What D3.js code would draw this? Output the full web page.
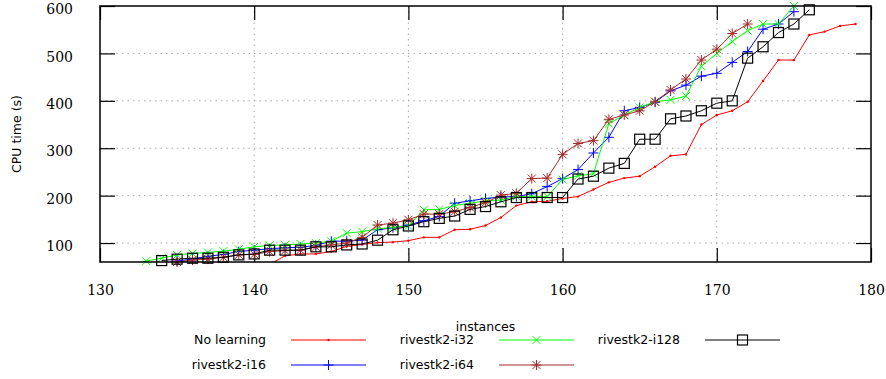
<!DOCTYPE html>
<html>
<head>
<meta charset="utf-8">
<script src="https://cdn.jsdelivr.net/npm/d3@7"></script>
<style>
  body { margin: 0; background: #fff; }
  svg { display: block; }
  .tick text { font-family: "DejaVu Serif", serif; font-size: 14px; fill: #000; }
  .lbl { font-family: "DejaVu Sans", sans-serif; font-size: 12.5px; fill: #000; }
</style>
</head>
<body>
<svg id="chart" width="886" height="379"></svg>
<script>
// cactus plot: CPU time per number of solved instances
const xTicks = [130, 140, 150, 160, 170, 180];
const yTicks = [100, 200, 300, 400, 500, 600];

const noLearningStart = 141;
const noLearning = [55, 73, 77, 77, 82, 93, 97, 101, 102, 105, 112, 112, 128, 129, 137, 154, 179, 187, 188, 194,
  198, 213, 228, 237, 241, 261, 284, 287, 350, 370, 379, 398, 442, 486, 486, 539, 546, 558, 562];

const i16Start = 135;
const i16 = [62, 66, 72, 76, 82, 85, 88, 90, 91, 95, 104, 104, 106, 128, 132, 138, 147, 156, 184, 189,
  194, 197, 198, 204, 219, 236, 255, 290, 323, 379, 386, 397, 421, 433, 452, 458, 481, 504, 551, 562, 588];

const i32Start = 132;
const i32 = [56, 62, 68, 75, 78, 80, 83, 87, 92, 95, 96, 98, 100, 104, 121, 124, 130, 133, 136, 170,
  171, 179, 184, 189, 191, 198, 198, 198, 234, 242, 246, 352, 370, 386, 398, 402, 410, 473, 500, 525,
  548, 562, 562, 600];

const i64Start = 135;
const i64 = [60, 64, 66, 70, 75, 76, 82, 84, 85, 92, 96, 100, 112, 138, 142, 149, 161, 161, 166, 175,
  185, 201, 205, 236, 237, 287, 310, 316, 361, 370, 379, 398, 423, 446, 486, 509, 542, 562];

const i128Start = 134;
const i128 = [63, 66, 68, 68, 70, 75, 77, 85, 85, 85, 92, 92, 96, 98, 106, 128, 136, 145, 152, 157,
  171, 177, 187, 196, 196, 196, 196, 235, 241, 258, 268, 319, 319, 362, 368, 379, 395, 400, 490, 514,
  544, 562, 592];

const seriesNames = ['No learning', 'rivestk2-i16', 'rivestk2-i32', 'rivestk2-i64', 'rivestk2-i128'];
const seriesColors = ['#ff0000', '#0000ff', '#00ff00', '#a52a2a', '#000000'];
const seriesMarks = ['dot', 'plus', 'cross', 'star', 'square'];
const seriesStarts = [noLearningStart, i16Start, i32Start, i64Start, i128Start];
const seriesValues = [noLearning, i16, i32, i64, i128];

const svg = d3.select('#chart');
const pLeft = 100, pRight = 871, pTop = 6, pBottom = 262;

const x = d3.scaleLinear().domain([130, 180]).range([pLeft, pRight]);
const y = d3.scaleLinear().domain([60, 600]).range([pBottom, pTop]);

const series = seriesNames.map((name, i) => ({
  name,
  color: seriesColors[i],
  mark: seriesMarks[i],
  points: seriesValues[i].map((v, j) => ({n: seriesStarts[i] + j, v}))
}));

svg.append('defs').append('clipPath').attr('id', 'plotclip')
  .append('rect').attr('x', pLeft).attr('y', pTop).attr('width', pRight - pLeft).attr('height', pBottom - pTop);

// grid
const grid = svg.append('g').attr('stroke', '#a8a8a8').attr('stroke-width', 1).attr('stroke-dasharray', '1.5,4');
grid.selectAll('.gx').data(xTicks.slice(1, -1)).enter().append('line')
  .attr('x1', d => x(d)).attr('x2', d => x(d)).attr('y1', pTop).attr('y2', pBottom);
grid.selectAll('.gy').data(yTicks.slice(0, -1)).enter().append('line')
  .attr('x1', pLeft).attr('x2', pRight).attr('y1', d => y(d)).attr('y2', d => y(d));

// axes
const axB = svg.append('g').attr('transform', `translate(0,${pBottom})`)
  .call(d3.axisBottom(x).tickValues(xTicks).tickSize(-14).tickPadding(23).tickSizeOuter(0));
const axL = svg.append('g').attr('transform', `translate(${pLeft},0)`)
  .call(d3.axisLeft(y).tickValues(yTicks).tickSize(-15).tickPadding(27).tickSizeOuter(0));
axL.selectAll('.tick text').attr('dy', '0.55em');
const axT = svg.append('g').attr('transform', `translate(0,${pTop})`)
  .call(d3.axisTop(x).tickValues(xTicks).tickSize(-14).tickFormat('').tickSizeOuter(0));
const axR = svg.append('g').attr('transform', `translate(${pRight},0)`)
  .call(d3.axisRight(y).tickValues(yTicks).tickSize(-15).tickFormat('').tickSizeOuter(0));
[axB, axL, axT, axR].forEach(a => {
  a.select('.domain').remove();
  a.selectAll('line').attr('stroke', '#000').attr('stroke-width', 1.2);
});

// markers
function drawMark(g, kind, color) {
  if (kind === 'dot') {
    g.append('circle').attr('r', 1.2).attr('fill', color);
  } else if (kind === 'plus') {
    g.append('path').attr('d', 'M-5,0H5M0,-5V5').attr('stroke', color).attr('fill', 'none');
  } else if (kind === 'cross') {
    g.append('path').attr('d', 'M-4,-4L4,4M-4,4L4,-4').attr('stroke', color).attr('fill', 'none');
  } else if (kind === 'star') {
    g.append('path').attr('d', 'M-5,0H5M0,-5V5M-4,-4L4,4M-4,4L4,-4').attr('stroke', color).attr('fill', 'none');
  } else if (kind === 'square') {
    g.append('rect').attr('x', -5).attr('y', -5).attr('width', 10).attr('height', 10)
      .attr('stroke', color).attr('fill', 'none').attr('stroke-width', 1.2);
  }
}

const line = d3.line().x(d => x(d.n)).y(d => y(d.v));
const plot = svg.append('g');
series.forEach(s => {
  const g = plot.append('g');
  g.append('path').datum(s.points).attr('d', line).attr('fill', 'none')
    .attr('stroke', s.color).attr('stroke-width', 1).attr('clip-path', 'url(#plotclip)');
  g.selectAll('.pt').data(s.points.filter(d => d.v >= 60 && d.v <= 600)).enter().append('g')
    .attr('transform', d => `translate(${x(d.n)},${y(d.v)})`)
    .each(function () { drawMark(d3.select(this), s.mark, s.color); });
});

// border
svg.append('rect').attr('x', pLeft).attr('y', pTop).attr('width', pRight - pLeft).attr('height', pBottom - pTop)
  .attr('fill', 'none').attr('stroke', '#000').attr('stroke-width', 1.5);

// axis labels
svg.append('text').attr('class', 'lbl').attr('transform', `translate(21,${(pTop + pBottom) / 2}) rotate(-90)`)
  .attr('text-anchor', 'middle').text('CPU time (s)');
svg.append('text').attr('class', 'lbl').attr('x', (pLeft + pRight) / 2).attr('y', 331)
  .attr('text-anchor', 'middle').text('instances');

// legend, column-major, 2 rows
const legendCols = [266, 474, 680];
const legendRows = [340, 365];
const leg = svg.append('g');
series.forEach((s, i) => {
  const cx = legendCols[Math.floor(i / 2)];
  const cy = legendRows[i % 2];
  const g = leg.append('g');
  g.append('text').attr('class', 'lbl').attr('x', cx).attr('y', cy).attr('dy', '0.35em')
    .attr('text-anchor', 'end').text(s.name);
  g.append('line').attr('x1', cx + 25).attr('x2', cx + 100).attr('y1', cy).attr('y2', cy)
    .attr('stroke', s.color).attr('stroke-width', 1);
  const m = g.append('g').attr('transform', `translate(${cx + 62.5},${cy})`);
  drawMark(m, s.mark, s.color);
});
</script>
</body>
</html>
